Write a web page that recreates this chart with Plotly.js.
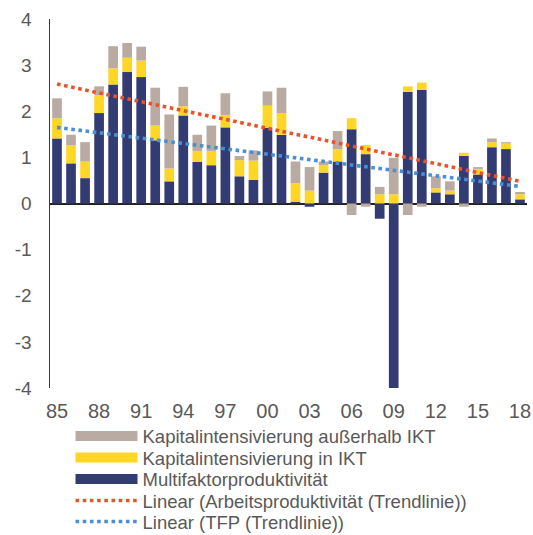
<!DOCTYPE html>
<html>
<head>
<meta charset="utf-8">
<script src="https://cdn.plot.ly/plotly-3.0.1.min.js"></script>
<style>html,body{margin:0;padding:0;background:#fff;}#chart{width:533px;height:535px;}</style>
</head>
<body>
<div id="chart"></div>
<script>
// Years 1985–2018
const years = [1985,1986,1987,1988,1989,1990,1991,1992,1993,1994,1995,1996,1997,1998,1999,2000,2001,2002,2003,2004,2005,2006,2007,2008,2009,2010,2011,2012,2013,2014,2015,2016,2017,2018];

// Multifaktorproduktivität
const mfp = [1.41,0.87,0.55,1.96,2.58,2.85,2.74,1.37,0.48,1.91,0.90,0.83,1.65,0.59,0.51,1.64,1.49,0.04,-0.07,0.67,0.91,1.61,1.07,-0.33,-4.00,2.42,2.46,0.24,0.20,1.03,0.63,1.22,1.18,0.09];

// Kapitalintensivierung in IKT
const ikt = [0.44,0.39,0.36,0.39,0.35,0.31,0.36,0.32,0.28,0.20,0.24,0.31,0.27,0.35,0.42,0.48,0.47,0.40,0.28,0.16,0.27,0.24,0.20,0.20,0.20,0.12,0.16,0.09,0.08,0.07,0.12,0.11,0.12,0.11];

// Kapitalintensivierung außerhalb IKT
const nonIkt = [0.43,0.23,0.42,0.19,0.48,0.32,0.30,0.82,1.17,0.42,0.35,0.55,0.47,0.09,0.22,0.31,0.55,0.47,0.51,0.08,0.39,-0.25,-0.07,0.16,0.79,-0.25,-0.07,0.26,0.20,-0.07,0.04,0.08,0.03,0.05];

// Linear trend lines (endpoints)
const trendYears = [1985, 2018];
const trendArbeit = [2.59, 0.48];
const trendTFP = [1.65, 0.37];

// Axis tick labels
const xTickVals = [1985,1988,1991,1994,1997,2000,2003,2006,2009,2012,2015,2018];
const xTickText = ['85','88','91','94','97','00','03','06','09','12','15','18'];
const yTickVals = [-4,-3,-2,-1,0,1,2,3,4];
const yTickText = ['-4','-3','-2','-1','0','1','2','3','4'];

const names = {
  nonIkt: 'Kapitalintensivierung außerhalb IKT',
  ikt: 'Kapitalintensivierung in IKT',
  mfp: 'Multifaktorproduktivität',
  arbeit: 'Linear (Arbeitsproduktivität (Trendlinie))',
  tfp: 'Linear (TFP (Trendlinie))'
};

const colors = {nonIkt:'#B9ABA2', ikt:'#FFD624', mfp:'#333B73', arbeit:'#E8532B', tfp:'#4A8FD4'};
const dotted = '3.6px,3.6px';

const traces = [
  {type:'bar', x:years, y:mfp, name:names.mfp, marker:{color:colors.mfp}, showlegend:false},
  {type:'bar', x:years, y:ikt, name:names.ikt, marker:{color:colors.ikt}, showlegend:false},
  {type:'bar', x:years, y:nonIkt, name:names.nonIkt, marker:{color:colors.nonIkt}, showlegend:false},
  // legend entries for the bar series
  {type:'scatter', mode:'lines', x:[null], y:[null], name:names.nonIkt, legend:'legend', line:{color:colors.nonIkt, width:10}, hoverinfo:'skip'},
  {type:'scatter', mode:'lines', x:[null], y:[null], name:names.ikt, legend:'legend2', line:{color:colors.ikt, width:10}, hoverinfo:'skip'},
  {type:'scatter', mode:'lines', x:[null], y:[null], name:names.mfp, legend:'legend3', line:{color:colors.mfp, width:10}, hoverinfo:'skip'},
  {type:'scatter', mode:'lines', x:trendYears, y:trendArbeit, name:names.arbeit, legend:'legend4', line:{color:colors.arbeit, width:3.6, dash:dotted}},
  {type:'scatter', mode:'lines', x:trendYears, y:trendTFP, name:names.tfp, legend:'legend5', line:{color:colors.tfp, width:3.6, dash:dotted}}
];

function leg(centerPx) {
  return {
    xref:'container', yref:'container', x:70.5/533, xanchor:'left',
    y:1 - centerPx/535, yanchor:'middle',
    font:{size:18.5, color:'#595959'}, itemwidth:62,
    bgcolor:'rgba(0,0,0,0)', borderwidth:0
  };
}

const layout = {
  width:533, height:535,
  margin:{l:50, r:6, t:19, b:147, autoexpand:false},
  paper_bgcolor:'#fff', plot_bgcolor:'#fff',
  font:{family:'"Liberation Sans", Arial, sans-serif', color:'#595959', size:18},
  barmode:'relative',
  bargap:0.31,
  showlegend:true,
  legend:leg(436.5),
  legend2:leg(458),
  legend3:leg(479.5),
  legend4:leg(501),
  legend5:leg(522),
  xaxis:{
    range:[1984.5, 2018.5], tickmode:'array', tickvals:xTickVals, ticktext:xTickText,
    showgrid:false, showline:false, zeroline:false, ticks:'',
    tickfont:{size:20, color:'#595959'}, ticklabelstandoff:9, fixedrange:true
  },
  yaxis:{
    range:[-4, 4], tickmode:'array', tickvals:yTickVals, ticktext:yTickText, showgrid:false,
    showline:true, linecolor:'#3a3a3a', linewidth:1.5,
    zeroline:true, zerolinecolor:'#222', zerolinewidth:2,
    ticks:'', tickfont:{size:19, color:'#595959'}, ticklabelstandoff:13, fixedrange:true
  }
};

Plotly.newPlot('chart', traces, layout, {displayModeBar:false, staticPlot:true});
</script>
</body>
</html>
